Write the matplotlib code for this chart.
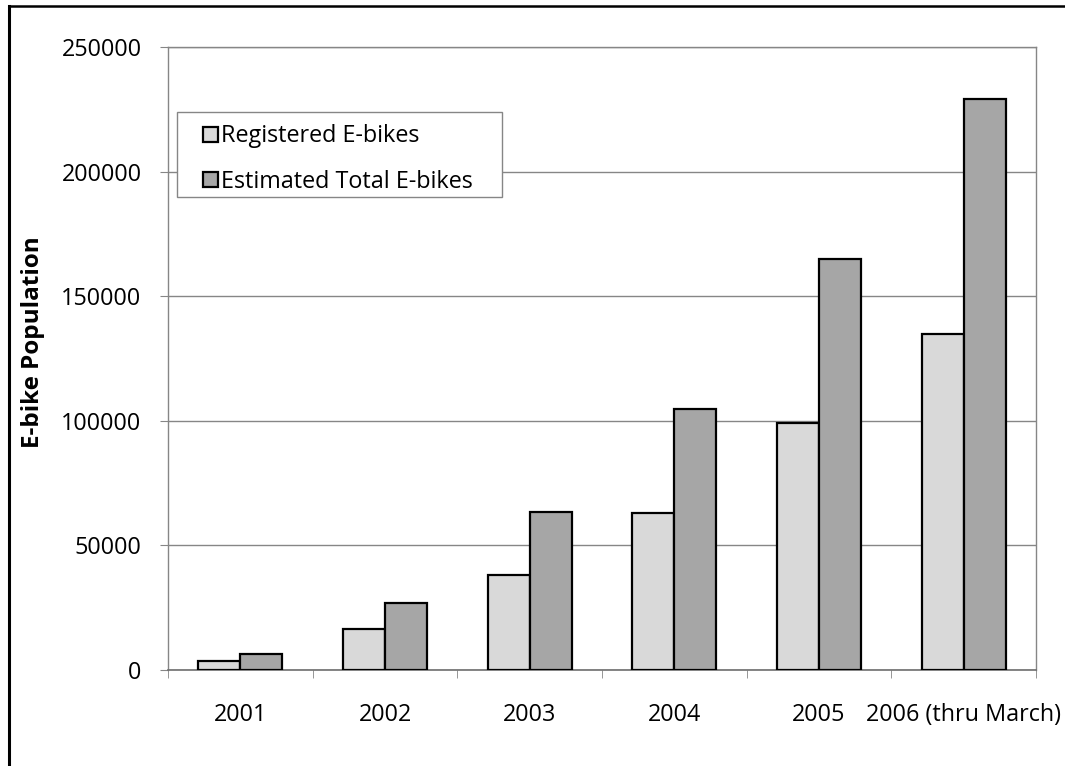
import numpy as np
import matplotlib.pyplot as plt
from matplotlib.lines import Line2D
from matplotlib.patches import Rectangle
from matplotlib.ticker import FixedLocator

years = ['2001', '2002', '2003', '2004', '2005', '2006 (thru March)']
registered = [3700, 16500, 38100, 62900, 99000, 135000]
estimated = [6300, 27000, 63500, 104700, 164800, 229000]

plt.rcParams['font.family'] = ['Open Sans', 'DejaVu Sans']
fs = 16.8

fig = plt.figure(figsize=(10.65, 7.66), dpi=100)
ax = fig.add_axes([168/1065, 1-670/766, (1036-168)/1065, (670-47)/766])

x = np.arange(len(years))
w = 0.29
ax.bar(x - w/2, registered, w, color='#d9d9d9', edgecolor='black', lw=1.6,
       label='Registered E-bikes', zorder=3)
ax.bar(x + w/2, estimated, w, color='#a6a6a6', edgecolor='black', lw=1.6,
       label='Estimated Total E-bikes', zorder=3)

ax.set_xlim(-0.5, len(years) - 0.5)
ax.set_ylim(0, 250000)
ax.set_yticks(np.arange(0, 250001, 50000))
ax.yaxis.grid(True, color='#868686', lw=1.0, zorder=0)

ax.set_xticks(x)
ax.set_xticklabels(years)
ax.xaxis.set_minor_locator(FixedLocator(np.arange(-0.5, len(years), 1.0)))
ax.tick_params(axis='x', which='major', length=0, pad=24, labelsize=fs)
ax.tick_params(axis='x', which='minor', length=6, color='#868686', direction='out')
ax.tick_params(axis='y', length=6, color='#868686', direction='out', pad=13, labelsize=fs)

for s in ['left', 'right', 'top']:
    ax.spines[s].set_color('#868686')
    ax.spines[s].set_linewidth(1.0)
ax.spines['bottom'].set_color('#6e6e6e')
ax.spines['bottom'].set_linewidth(1.2)

ax.set_ylabel('E-bike Population', fontsize=17.5, fontweight='bold')
ax.yaxis.set_label_coords(-0.1417, 0.526)

# legend box like Excel: wide padding left/right, tight top/bottom
ax.add_patch(Rectangle((9/868, (670-197)/623), (502-177)/868, 85/623,
                       transform=ax.transAxes, facecolor='white',
                       edgecolor='#868686', lw=1.0, zorder=4))
leg = ax.legend(loc='upper left', bbox_to_anchor=(35/868, (670-124.5)/623),
                fontsize=fs, frameon=False,
                handlelength=0.65, handleheight=0.65, handletextpad=0.13,
                labelspacing=0.9, borderpad=0, borderaxespad=0)
leg.set_zorder(5)

# chart border (left and top visible)
fig.add_artist(Line2D([8.5/1065, 8.5/1065], [0, 1-6/766], color='black', lw=2.2,
                      transform=fig.transFigure))
fig.add_artist(Line2D([8.5/1065, 1], [1-6/766, 1-6/766], color='black', lw=1.8,
                      transform=fig.transFigure))

plt.savefig('out.png', dpi=100)
plt.close(fig)
